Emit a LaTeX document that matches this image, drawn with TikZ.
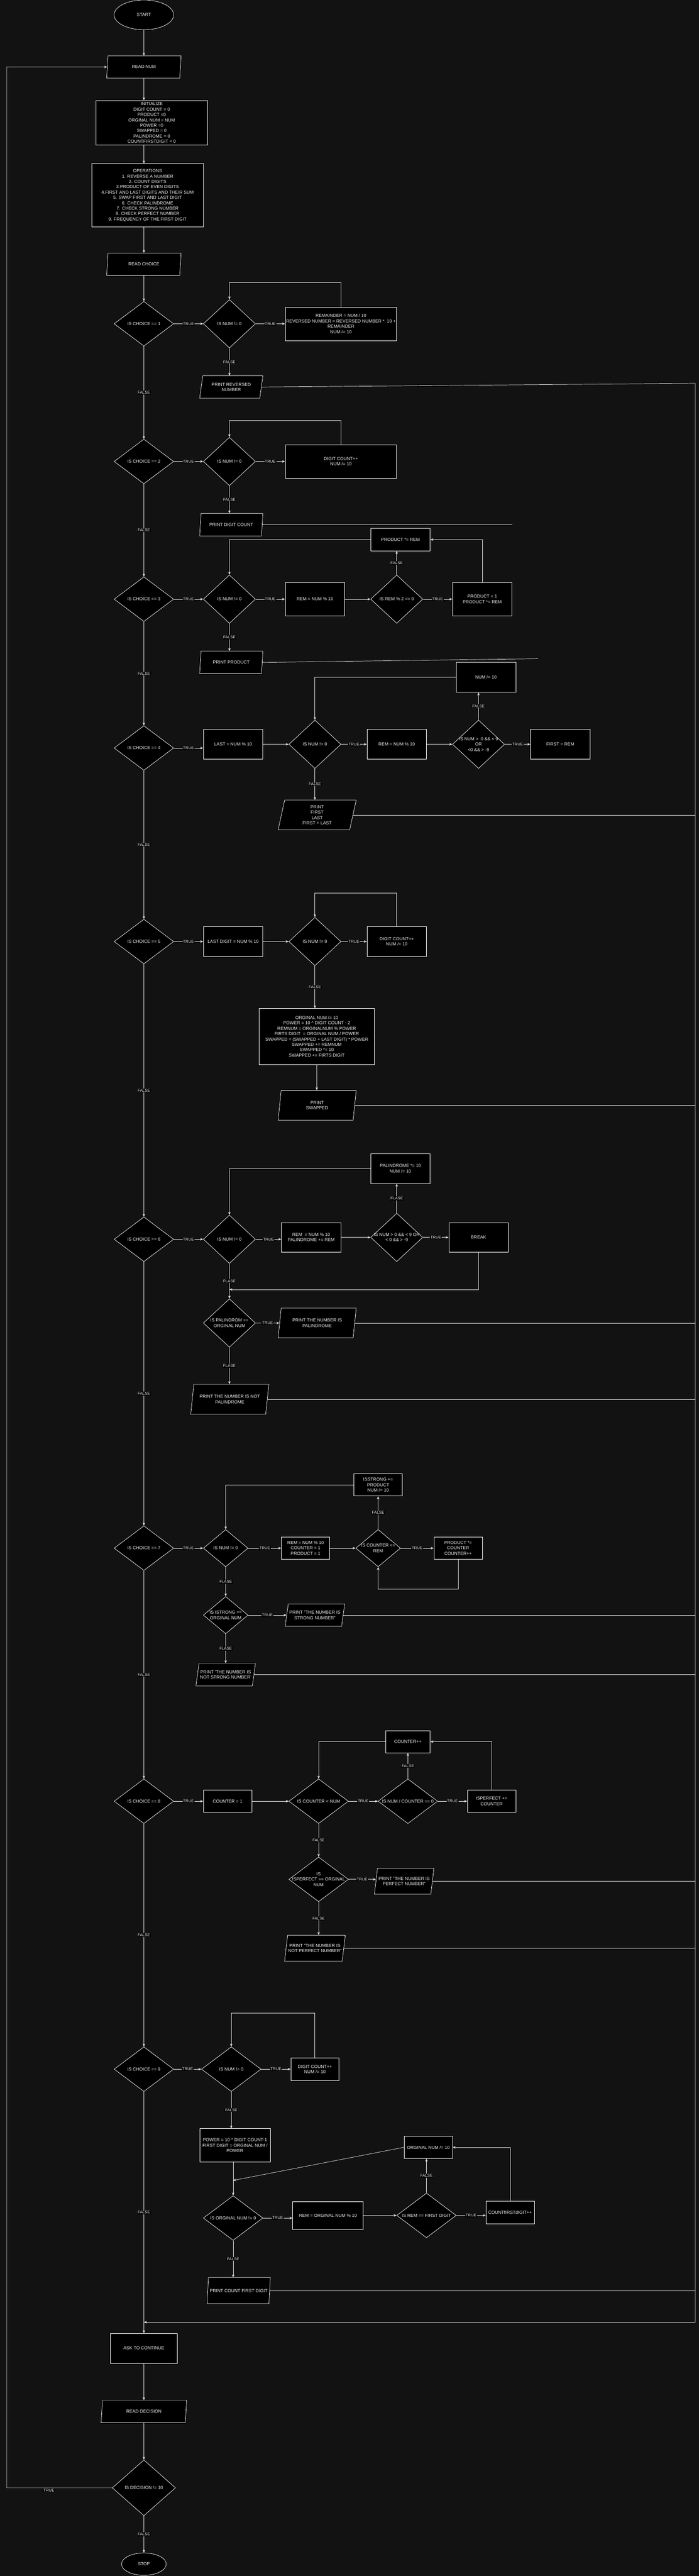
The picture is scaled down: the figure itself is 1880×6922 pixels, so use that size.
\documentclass[tikz,border=0pt]{standalone}
\usepackage{fontspec}
\setmainfont{Liberation Sans}
\usetikzlibrary{shapes.geometric,arrows.meta}
\definecolor{bg}{HTML}{121212}
\definecolor{txt}{HTML}{F0F0F0}
\definecolor{edge}{HTML}{E6E6E6}
\def\px{0.75pt}
\begin{document}
\begin{tikzpicture}[x=0.75pt, y=-0.75pt,
  every node/.style={font=\fontsize{9}{10.8}\selectfont, text=txt},
  term/.style 2 args={ellipse, draw=white, fill=black, line width=0.75pt, minimum width=#1*\px, minimum height=#2*\px},
  box/.style 2 args={rectangle, draw=white, fill=black, line width=0.75pt, align=center, inner sep=1pt, minimum width=#1*\px, minimum height=#2*\px},
  io/.style 2 args={trapezium, trapezium left angle=72, trapezium right angle=108, trapezium stretches body, draw=white, fill=black, line width=0.75pt, align=center, inner sep=1pt, minimum width=#1*\px, minimum height=#2*\px},
  dia/.style 2 args={diamond, draw=white, fill=black, line width=0.75pt, inner sep=0pt, minimum width=#1*\px, minimum height=#2*\px},
  ntext/.style={align=center},
  lbl/.style={fill=black, inner sep=1pt, font=\fontsize{8}{9}\selectfont},
  ln/.style={draw=edge, line width=0.75pt},
  arr/.style={ln, -{Stealth[length=6pt,width=5pt]}}]
\path[use as bounding box, fill=bg] (0,0) rectangle (1880,6922);

\node[term={160}{80}] (start) at (387,40) {START};
\node[io={200}{60}] (readnum) at (387,180) {READ NUM};
\node[box={300}{120}] (init) at (408,330) {INITIALIZE\\DIGIT COUNT = 0\\PRODUCT =0\\ORGINAL NUM = NUM\\POWER =0\\SWAPPED = 0\\PALINDROME = 0\\COUNTFIRSTDIGIT = 0};
\node[box={300}{170}] (ops) at (397,525) {OPERATIONS\\1. REVERSE A NUMBER\\2. COUNT DIGITS\\3.PRODUCT OF EVEN DIGITS\\4.FIRST AND LAST DIGITS AND THEIR SUM\\5. SWAP FIRST AND LAST DIGIT\\6. CHECK PALINDROME\\7. CHECK STRONG NUMBER\\8. CHECK PERFECT NUMBER\\9. FREQUENCY OF THE FIRST DIGIT};
\node[io={200}{60}] (readchoice) at (387,710) {READ CHOICE};

\foreach \i/\y in {1/870,2/1240,3/1610,4/2010,5/2530,6/3330,7/4160,8/4840,9/5560}
  \node[dia={160}{120}, label={[ntext]center:{IS CHOICE == \i}}] (d\i) at (387,\y) {};

\node[dia={140}{130}, label={[ntext]center:{IS NUM != 0}}] (n1) at (617,870) {};
\node[box={300}{90}] (r1) at (917,870) {REMAINDER = NUM / 10\\REVERSED NUMBER = REVERSED NUMBER *~~10 +\\REMAINDER\\NUM /= 10};
\node[io={170}{60}] (pr1) at (622,1040) {PRINT REVERSED\\NUMBER};

\node[dia={140}{130}, label={[ntext]center:{IS NUM != 0}}] (n2) at (617,1240) {};
\node[box={300}{90}] (r2) at (917,1240) {DIGIT COUNT++\\NUM /= 10};
\node[io={170}{60}] (pr2) at (622,1410) {PRINT DIGIT COUNT};

\node[dia={140}{130}, label={[ntext]center:{IS NUM != 0}}] (n3) at (617,1610) {};
\node[box={160}{90}] (rem3) at (847,1610) {REM = NUM \% 10};
\node[dia={140}{130}, label={[ntext]center:{IS REM \% 2 == 0}}] (ev3) at (1067,1610) {};
\node[box={160}{90}] (prod1) at (1297,1610) {PRODUCT = 1\\PRODUCT *= REM};
\node[box={160}{60}] (prodm) at (1077,1450) {PRODUCT *= REM};
\node[io={170}{60}] (pr3) at (622,1780) {PRINT PRODUCT};

\node[box={160}{80}] (last4) at (627,2000) {LAST = NUM \% 10};
\node[dia={140}{130}, label={[ntext]center:{IS NUM != 0}}] (n4) at (847,2000) {};
\node[box={160}{80}] (rem4) at (1067,2000) {REM = NUM \% 10};
\node[dia={140}{130}, label={[ntext]center:{IS NUM >~~0 \&\& < 9\\OR\\<0 \&\& > -9}}] (chk4) at (1287,2000) {};
\node[box={160}{80}] (first4) at (1507,2000) {FIRST = REM};
\node[box={160}{80}] (div4) at (1307,1820) {NUM /= 10};
\node[io={210}{80}] (pr4) at (853,2190) {PRINT\\FIRST\\LAST\\FIRST + LAST};

\node[box={160}{80}] (last5) at (627,2530) {LAST DIGIT = NUM \% 10};
\node[dia={140}{130}, label={[ntext]center:{IS NUM != 0}}] (n5) at (847,2530) {};
\node[box={160}{80}] (cnt5) at (1067,2530) {DIGIT COUNT++\\NUM /= 10};
\node[box={310}{150}] (sw5) at (852,2785) {ORGINAL NUM /= 10\\POWER = 10 \textasciicircum{} DIGIT COUNT - 2\\REMNUM = ORGINALNUM \% POWER\\FIRTS DIGIT~~= ORGINAL NUM / POWER\\SWAPPED = (SWAPPED + LAST DIGIT) * POWER\\SWAPPED += REMNUM\\SWAPPED *= 10\\SWAPPED += FIRTS DIGIT};
\node[io={210}{80}] (pr5) at (853,2970) {PRINT\\SWAPPED};

\node[dia={140}{130}, label={[ntext]center:{IS NUM != 0}}] (n6) at (617,3330) {};
\node[box={160}{80}] (rem6) at (837,3325) {REM~~= NUM \% 10\\PALINDROME += REM};
\node[dia={140}{130}, label={[ntext]center:{IS NUM > 0 \&\& < 9 OR\\< 0 \&\& > -9}}] (chk6) at (1067,3325) {};
\node[box={160}{80}] (brk6) at (1287,3325) {BREAK};
\node[box={160}{80}] (pal6) at (1077,3140) {PALINDROME *= 10\\NUM /= 10};
\coordinate (j6) at (617,3465);
\node[dia={140}{130}, label={[ntext]center:{IS PALINDROM ==\\ORGINAL NUM}}] (ip6) at (617,3555) {};
\node[io={210}{80}] (pp6) at (853,3555) {PRINT THE NUMBER IS\\PALINDROME};
\node[io={210}{80}] (np6) at (618,3760) {PRINT THE NUMBER IS NOT\\PALINDROME};

\node[dia={120}{100}, label={[ntext]center:{IS NUM != 0}}] (n7) at (607,4160) {};
\node[box={130}{60}] (rem7) at (822,4160) {REM = NUM \% 10\\COUNTER = 1\\PRODUCT = 1};
\node[dia={120}{100}, label={[ntext]center:{IS COUNTER <=\\REM}}] (cnt7) at (1017,4160) {};
\node[box={130}{60}] (pm7) at (1232,4160) {PRODUCT *=\\COUNTER\\COUNTER++};
\node[box={130}{60}] (st7) at (1017,3990) {ISSTRONG +=\\PRODUCT\\NUM /= 10};
\node[dia={120}{100}, label={[ntext]center:{IS ISTRONG ==\\ORGINAL NUM}}] (is7) at (607,4340) {};
\node[io={160}{60}] (ps7) at (847,4340) {PRINT "THE NUMBER IS\\STRONG NUMBER"};
\node[io={160}{60}] (ns7) at (607,4500) {PRINT 'THE NUMBER IS\\NOT STRONG NUMBER'};

\node[box={130}{60}] (c8) at (612,4840) {COUNTER = 1};
\node[dia={160}{120}, label={[ntext]center:{IS COUNTER < NUM}}] (lt8) at (857,4840) {};
\node[dia={160}{120}, label={[ntext]center:{IS NUM / COUNTER == 0}}] (dv8) at (1097,4840) {};
\node[box={130}{60}] (pf8) at (1322,4840) {ISPERFECT +=\\COUNTER};
\node[box={120}{60}] (inc8) at (1097,4680) {COUNTER++};
\node[dia={160}{120}, label={[ntext]center:{IS\\ISPERFECT == ORGINAL\\NUM}}] (ip8) at (857,5050) {};
\node[io={160}{70}] (pp8) at (1087,5055) {PRINT "THE NUMBER IS\\PERFECT NUMBER"};
\node[io={160}{70}] (np8) at (847,5235) {PRINT "THE NUMBER IS\\NOT PERFECT NUMBER"};

\node[dia={160}{120}, label={[ntext]center:{IS NUM != 0}}] (n9) at (622,5560) {};
\node[box={130}{60}] (dc9) at (847,5560) {DIGIT COUNT++\\NUM /= 10};
\node[box={190}{90}] (pw9) at (632,5765) {POWER = 10 \textasciicircum{} DIGIT COUNT-1\\FIRST DIGIT = ORGINAL NUM /\\POWER};
\node[box={130}{60}] (on9) at (1152,5770) {ORGINAL NUM /= 10};
\coordinate (j9) at (627,5859);
\node[dia={160}{120}, label={[ntext]center:{IS ORGINAL NUM != 0}}] (io9) at (627,5960) {};
\node[box={190}{75}] (rm9) at (882,5953) {REM = ORGINAL NUM \% 10};
\node[dia={160}{120}, label={[ntext]center:{IS REM == FIRST DIGIT}}] (eq9) at (1147,5953) {};
\node[box={130}{60}] (cf9) at (1372,5945) {COUNTfIRSTdIGIT++};
\node[io={170}{70}] (pc9) at (642,6155) {PRINT COUNT FIRST DIGIT};

\node[box={180}{80}] (ask) at (387,6310) {ASK TO CONTINUE};
\node[io={230}{60}] (rd) at (387,6480) {READ DECISION};
\node[dia={170}{150}, label={[ntext]center:{IS DECISION != 10}}] (dec) at (387,6685) {};
\node[term={120}{60}] (stop) at (387,6890) {STOP};

\coordinate (rtop) at (1870,1030);
\coordinate (rbot) at (1870,6240);
\coordinate (mrg) at (387,6240);
\coordinate (e2) at (1378,1410);
\coordinate (e3) at (1447,1770);
\coordinate (lbot) at (18,6685);
\coordinate (ltop) at (18,180);

\draw[arr] (start) -- (readnum);
\draw[arr] (readnum.south) -- (readnum.south |- init.north);
\draw[arr] (readnum.south |- init.south) -- (readnum.south |- ops.north);
\draw[arr] (readnum.south |- ops.south) -- (readchoice.north);
\draw[arr] (readchoice) -- (d1);
\foreach \i in {1,...,8} {
  \pgfmathtruncatemacro{\j}{\i+1}
  \draw[arr] (d\i.south) -- node[lbl] {FALSE} (d\j.north);
}
\draw[arr] (d9.south) -- node[lbl] {FALSE} (ask.north);
\draw[arr] (ask) -- (rd);
\draw[arr] (rd) -- (dec);
\draw[arr] (dec) -- node[lbl] {FALSE} (stop);
\draw[arr] (dec.west) -- node[lbl, below=1pt, pos=0.6] {TRUE} (lbot) -- (ltop) -- (readnum.west);
\draw[arr] (pr1.east) -- (rtop) -- (rbot) -- (mrg);

\draw[arr] (d1) -- node[lbl] {TRUE} (n1);
\draw[arr] (n1) -- node[lbl] {TRUE} (r1);
\draw[arr] (r1.north) -- ++(0,-65) -| (n1.north);
\draw[arr] (n1) -- node[lbl] {FALSE} (n1 |- pr1.north);

\draw[arr] (d2) -- node[lbl] {TRUE} (n2);
\draw[arr] (n2) -- node[lbl] {TRUE} (r2);
\draw[arr] (r2.north) -- ++(0,-65) -| (n2.north);
\draw[arr] (n2) -- node[lbl] {FALSE} (n2 |- pr2.north);
\draw[ln] (pr2.east) -- (e2);

\draw[arr] (d3) -- node[lbl] {TRUE} (n3);
\draw[arr] (n3) -- node[lbl] {TRUE} (rem3);
\draw[arr] (rem3) -- (ev3);
\draw[arr] (ev3) -- node[lbl] {TRUE} (prod1);
\draw[arr] (ev3) -- node[lbl] {FALSE} (ev3 |- prodm.south);
\draw[arr] (prod1.north) |- (prodm.east);
\draw[arr] (prodm.west) -| (n3.north);
\draw[arr] (n3) -- node[lbl] {FALSE} (n3 |- pr3.north);
\draw[ln] (pr3.east) -- (e3);

\draw[arr] (d4.east) -- node[lbl] {TRUE} (d4.east -| last4.west);
\draw[arr] (last4) -- (n4);
\draw[arr] (n4) -- node[lbl] {TRUE} (rem4);
\draw[arr] (rem4) -- (chk4);
\draw[arr] (chk4) -- node[lbl] {TRUE} (first4);
\draw[arr] (chk4) -- node[lbl] {FALSE} (chk4 |- div4.south);
\draw[arr] (div4.west) -| (n4.north);
\draw[arr] (n4) -- node[lbl] {FALSE} (n4 |- pr4.north);
\draw[ln] (pr4.east) -- (pr4.east -| rbot);

\draw[arr] (d5) -- node[lbl] {TRUE} (last5);
\draw[arr] (last5) -- (n5);
\draw[arr] (n5) -- node[lbl] {TRUE} (cnt5);
\draw[arr] (cnt5.north) -- ++(0,-90) -| (n5.north);
\draw[arr] (n5) -- node[lbl] {FALSE} (n5 |- sw5.north);
\draw[arr] (sw5) -- (sw5 |- pr5.north);
\draw[ln] (pr5.east) -- (pr5.east -| rbot);

\draw[arr] (d6) -- node[lbl] {TRUE} (n6);
\draw[arr] (n6.east) -- node[lbl] {TRUE} (n6.east -| rem6.west);
\draw[arr] (rem6) -- (chk6);
\draw[arr] (chk6) -- node[lbl] {TRUE} (brk6);
\draw[arr] (chk6) -- node[lbl] {FLASE} (chk6 |- pal6.south);
\draw[arr] (pal6.west) -| (n6.north);
\draw[arr] (brk6.south) |- (j6);
\draw[arr] (n6) -- node[lbl] {FLASE} (ip6);
\draw[arr] (ip6) -- node[lbl] {TRUE} (pp6);
\draw[ln] (pp6.east) -- (pp6.east -| rbot);
\draw[arr] (ip6) -- node[lbl] {FLASE} (ip6 |- np6.north);
\draw[ln] (np6.east) -- (np6.east -| rbot);

\draw[arr] (d7) -- node[lbl] {TRUE} (n7);
\draw[arr] (n7) -- node[lbl] {TRUE} (rem7);
\draw[arr] (rem7) -- (cnt7);
\draw[arr] (cnt7) -- node[lbl] {TRUE} (pm7);
\draw[arr] (cnt7) -- node[lbl] {FALSE} (st7);
\draw[arr] (st7.west) -| (n7.north);
\draw[arr] (pm7.south) -- ++(0,80) -| (cnt7.south);
\draw[arr] (n7) -- node[lbl] {FLASE} (is7);
\draw[arr] (is7) -- node[lbl] {TRUE} (ps7);
\draw[ln] (ps7.east) -- (ps7.east -| rbot);
\draw[arr] (is7) -- node[lbl] {FLASE} (ns7);
\draw[ln] (ns7.east) -- (ns7.east -| rbot);

\draw[arr] (d8) -- node[lbl] {TRUE} (c8);
\draw[arr] (c8) -- (lt8);
\draw[arr] (lt8) -- node[lbl] {TRUE} (dv8);
\draw[arr] (dv8) -- node[lbl] {TRUE} (pf8);
\draw[arr] (dv8) -- node[lbl] {FALSE} (inc8);
\draw[arr] (pf8.north) |- (inc8.east);
\draw[arr] (inc8.west) -| (lt8.north);
\draw[arr] (lt8) -- node[lbl] {FALSE} (ip8);
\draw[arr] (ip8.east) -- node[lbl] {TRUE} (ip8.east -| pp8.west);
\draw[ln] (pp8.east) -- (pp8.east -| rbot);
\draw[arr] (ip8) -- node[lbl] {FALSE} (ip8 |- np8.north);
\draw[ln] (np8.east) -- (np8.east -| rbot);

\draw[arr] (d9) -- node[lbl] {TRUE} (n9);
\draw[arr] (n9) -- node[lbl] {TRUE} (dc9);
\draw[arr] (dc9.north) -- ++(0,-120) -| (n9.north);
\draw[arr] (n9) -- node[lbl] {FALSE} (n9 |- pw9.north);
\draw[arr] (io9 |- pw9.south) -- (io9.north);
\draw[arr] (on9.west) -- (j9);
\draw[arr] (io9.east) -- node[lbl] {TRUE} (io9.east -| rm9.west);
\draw[arr] (rm9) -- (eq9);
\draw[arr] (eq9.east) -- node[lbl] {TRUE} (eq9.east -| cf9.west);
\draw[arr] (eq9) -- node[lbl] {FALSE} (eq9 |- on9.south);
\draw[arr] (cf9.north) |- (on9.east);
\draw[arr] (io9) -- node[lbl] {FALSE} (io9 |- pc9.north);
\draw[ln] (pc9.east) -- (pc9.east -| rbot);
\end{tikzpicture}
\end{document}
